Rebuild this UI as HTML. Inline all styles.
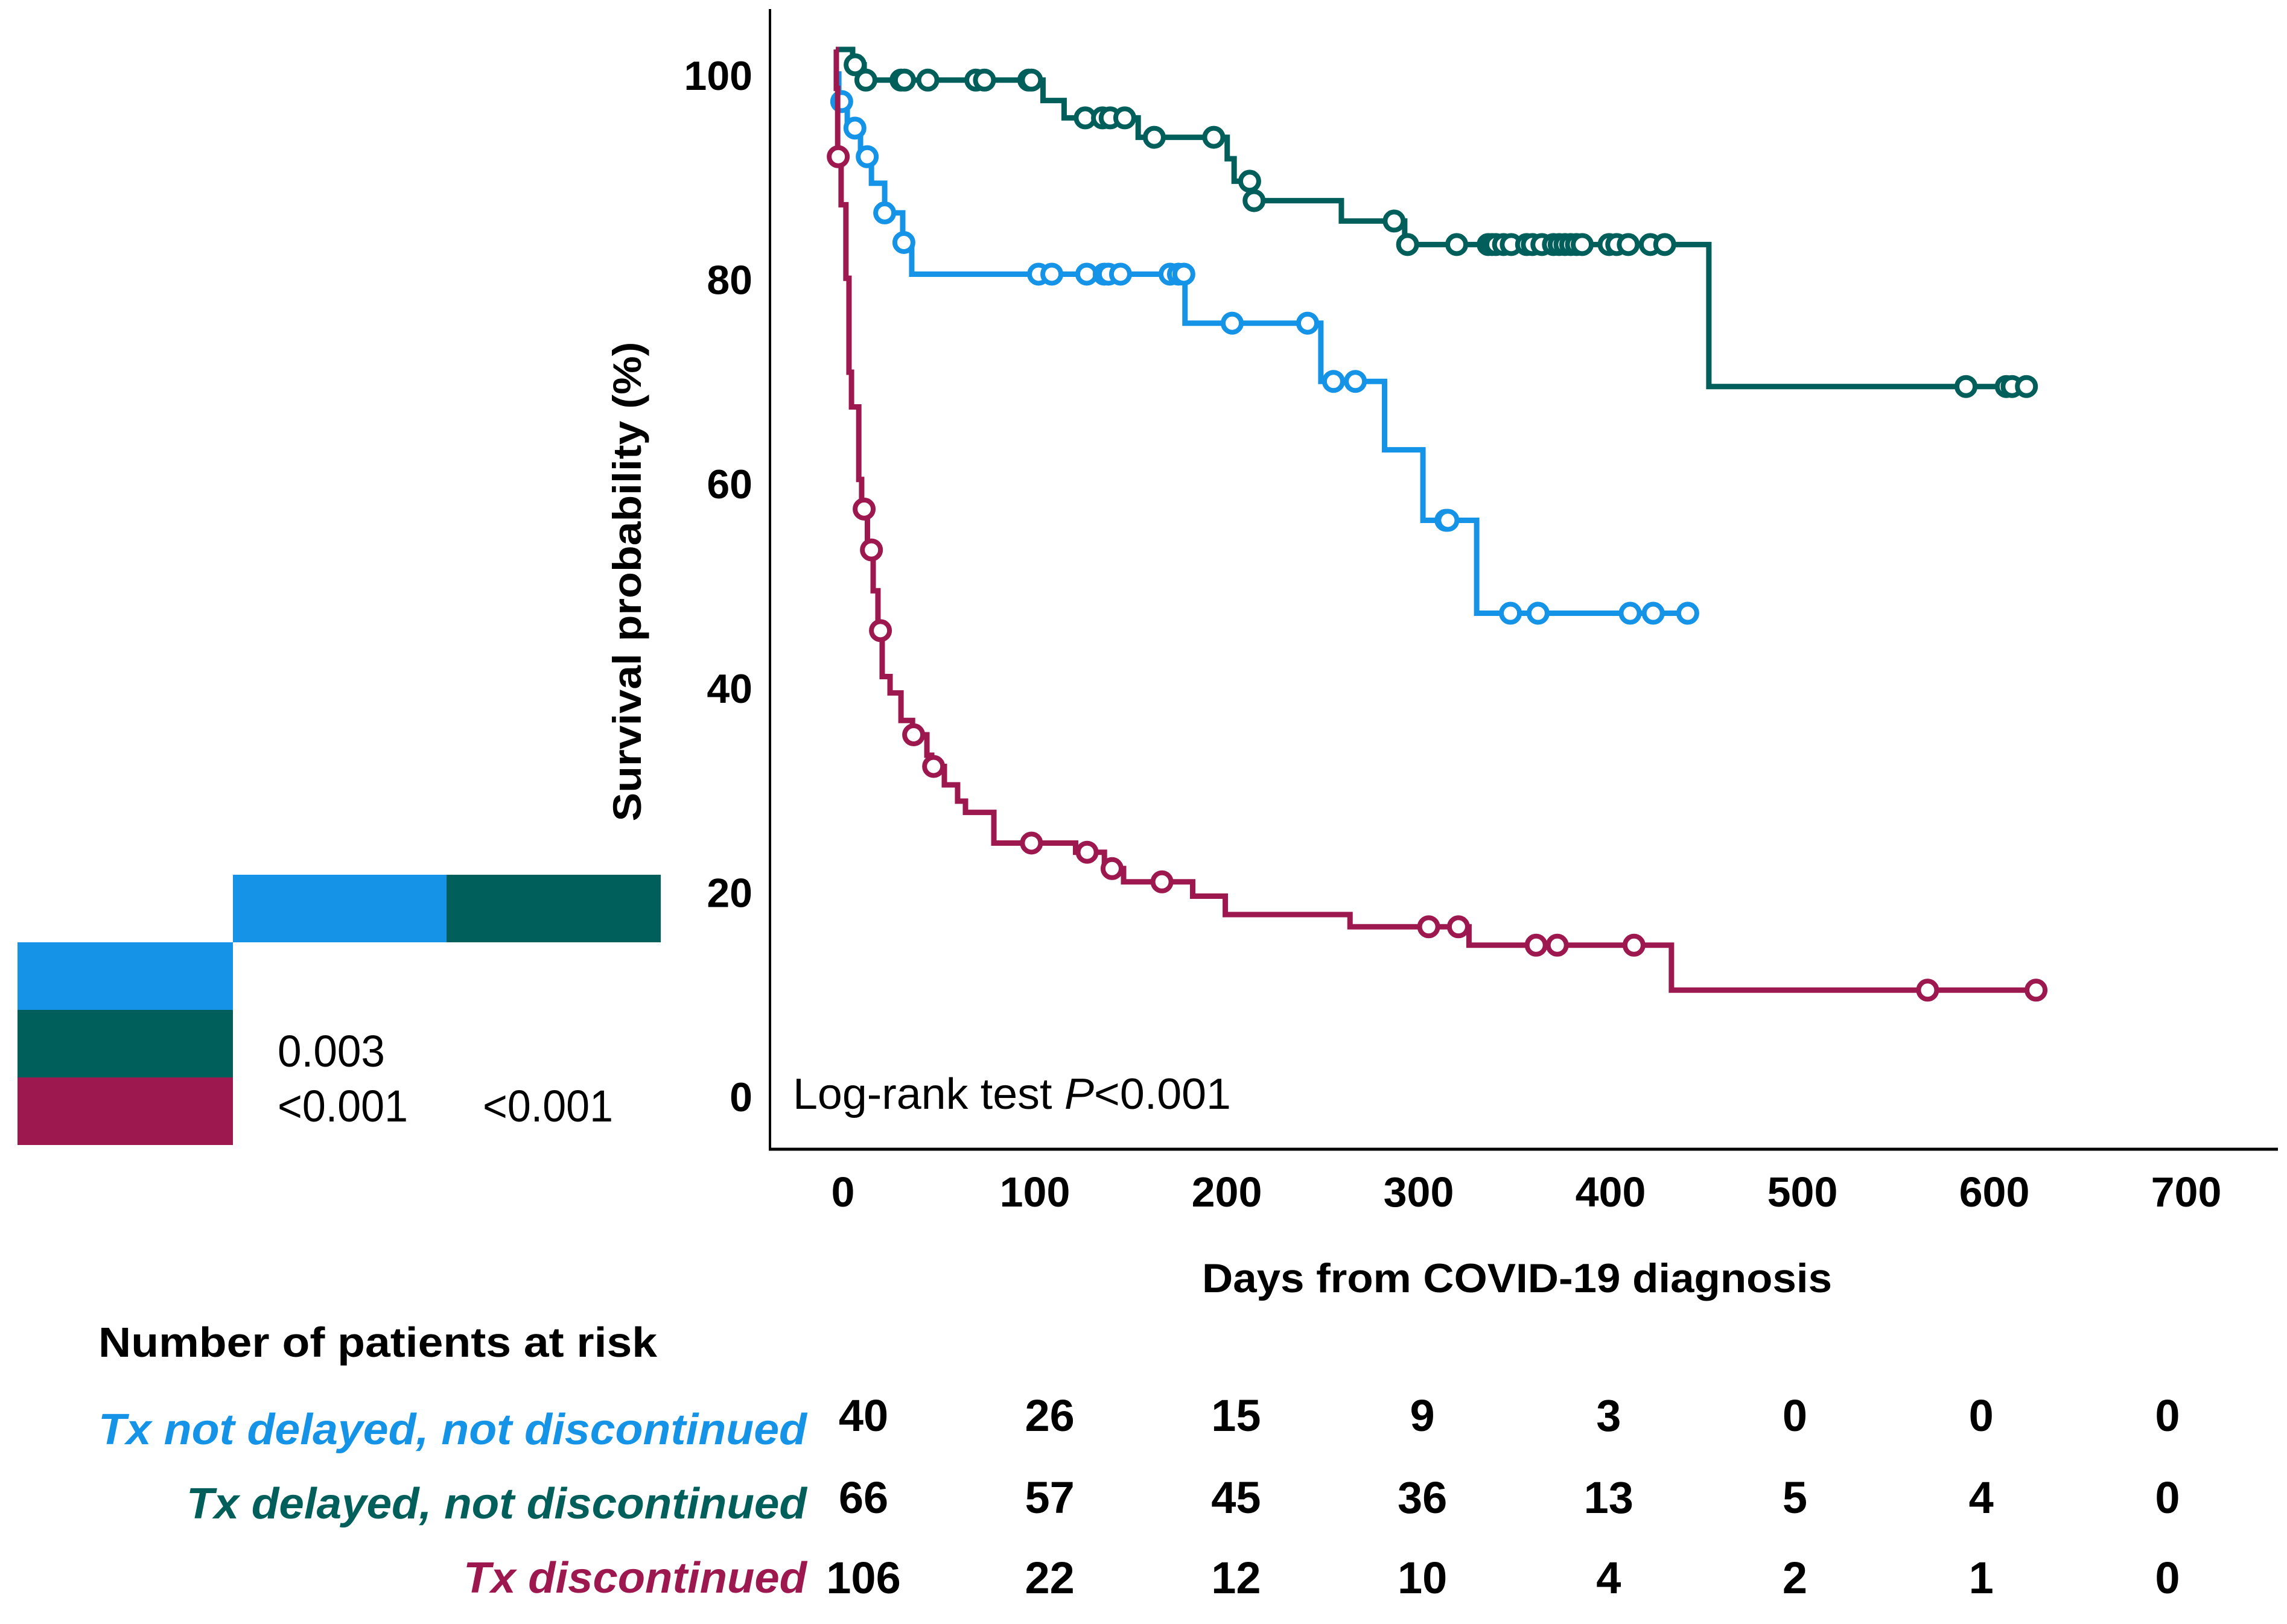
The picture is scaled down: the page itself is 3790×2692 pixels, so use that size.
<!DOCTYPE html>
<html><head><meta charset="utf-8"><style>
html,body{margin:0;padding:0;background:#fff;}
svg{display:block;}
text{font-family:"Liberation Sans",Arial,sans-serif;}
</style></head><body>
<svg id="chart" width="3790" height="2692" viewBox="0 0 3790 2692" xmlns="http://www.w3.org/2000/svg">
<rect width="3790" height="2692" fill="#fff"/>
<g>
<rect x="386" y="1450" width="354" height="112" fill="#1593E6"/>
<rect x="740" y="1450" width="355" height="112" fill="#005E5B"/>
<rect x="29" y="1562" width="357" height="112" fill="#1593E6"/>
<rect x="29" y="1674" width="357" height="112" fill="#005E5B"/>
<rect x="29" y="1786" width="357" height="112" fill="#9E1850"/>
<text x="460" y="1768" font-size="74" textLength="178" lengthAdjust="spacingAndGlyphs">0.003</text>
<text x="460" y="1859" font-size="74" textLength="216" lengthAdjust="spacingAndGlyphs">&lt;0.001</text>
<text x="800" y="1859" font-size="74" textLength="216" lengthAdjust="spacingAndGlyphs">&lt;0.001</text>
</g>
<line x1="1276" y1="15" x2="1276" y2="1907" stroke="#000" stroke-width="4"/>
<line x1="1274" y1="1905" x2="3775" y2="1905" stroke="#000" stroke-width="5"/>
<g id="yticks"></g>
<g id="xticks"></g>
<text transform="translate(1062,964) rotate(-90)" text-anchor="middle" font-size="66" font-weight="bold" textLength="795" lengthAdjust="spacingAndGlyphs">Survival probability (%)</text>
<text x="1992" y="2142" font-size="68" font-weight="bold" textLength="1044" lengthAdjust="spacingAndGlyphs">Days from COVID-19 diagnosis</text>
<text x="1314" y="1838" font-size="72" textLength="726" lengthAdjust="spacingAndGlyphs">Log-rank test <tspan font-style="italic">P</tspan>&lt;0.001</text>
<g id="curves"></g>
<text x="163" y="2249" font-size="70" font-weight="bold" textLength="926" lengthAdjust="spacingAndGlyphs">Number of patients at risk</text>
<text x="1337" y="2394" text-anchor="end" font-size="72" font-weight="bold" font-style="italic" fill="#1593E6" textLength="1174" lengthAdjust="spacingAndGlyphs">Tx not delayed, not discontinued</text>
<text x="1337" y="2517" text-anchor="end" font-size="72" font-weight="bold" font-style="italic" fill="#005E5B" textLength="1028" lengthAdjust="spacingAndGlyphs">Tx delayed, not discontinued</text>
<text x="1337" y="2640" text-anchor="end" font-size="72" font-weight="bold" font-style="italic" fill="#9E1850" textLength="569" lengthAdjust="spacingAndGlyphs">Tx discontinued</text>
<g id="risk"></g>
</svg>
<script>
const yTicks = [0, 20, 40, 60, 80, 100];
const xTicks = [0, 100, 200, 300, 400, 500, 600, 700];
const riskTimes = [0, 100, 200, 300, 400, 500, 600, 700];
const riskNotDelayed = [40, 26, 15, 9, 3, 0, 0, 0];
const riskDelayed = [66, 57, 45, 36, 13, 5, 4, 0];
const riskDiscontinued = [106, 22, 12, 10, 4, 2, 1, 0];

const greenSteps = [[0,100],[8.8,98.5],[14.8,97.0],[108,95.0],[119,93.3],[157.6,91.4],[204,89.3],[207.6,87.1],[218,85.2],[263.5,83.2],[296.5,80.9],[455,67.0]];
const greenEnd = 625.7;
const greenCensor = [[10.1,98.5],[15.7,97.0],[34,97.0],[35.8,97.0],[48,97.0],[73,97.0],[77.5,97.0],[100.6,97.0],[102,97.0],[130,93.3],[139,93.3],[143,93.3],[150.6,93.3],[166,91.4],[197,91.4],[215.7,87.1],[218,85.2],[291,83.2],[298,80.9],[323.6,80.9],[340,80.9],[342,80.9],[344,80.9],[348,80.9],[352,80.9],[360,80.9],[363,80.9],[368,80.9],[374,80.9],[377,80.9],[380,80.9],[383,80.9],[386,80.9],[389,80.9],[403,80.9],[407,80.9],[413,80.9],[424.5,80.9],[432,80.9],[589,67.0],[610,67.0],[613,67.0],[620.5,67.0]];

const blueSteps = [[0,97.6],[1.6,94.9],[6,92.3],[12.9,89.5],[18.6,86.9],[25.5,84.0],[34.9,81.1],[39.6,78.0],[182,73.2],[252.8,67.5],[286,60.8],[306,53.9],[334,44.8]];
const blueEnd = 444;
const blueCensor = [[3.1,94.9],[10,92.3],[16.4,89.5],[25.5,84.0],[35.5,81.1],[105.7,78.0],[112.6,78.0],[130.8,78.0],[139.9,78.0],[142.1,78.0],[148.4,78.0],[174.2,78.0],[178.6,78.0],[181.4,78.0],[206.6,73.2],[245.9,73.2],[259.4,67.5],[270.8,67.5],[318,53.9],[319,53.9],[351.6,44.8],[366,44.8],[414,44.8],[426,44.8],[444,44.8]];

const redSteps = [[0,100],[0.3,96.2],[1,89.5],[2.8,84.8],[5.3,77.6],[6.9,68.4],[8.2,65.0],[12,57.9],[13.5,55.0],[16.5,51.0],[19.5,47.0],[22,43.1],[24.2,38.6],[28.3,37.0],[34,34.3],[40,32.9],[47.5,30.9],[50,29.8],[56.6,28.0],[63.5,26.4],[67.6,25.3],[82.4,22.3],[125,21.4],[140,19.8],[150,18.5],[186,17.1],[203,15.3],[268,14.1],[330,12.3],[435.5,7.9]];
const redEnd = 625.5;
const redCensor = [[1.3,89.5],[14.8,55.0],[18.6,51.0],[23.3,43.1],[40.6,32.9],[51,29.8],[102,22.3],[131,21.4],[144,19.8],[170,18.5],[309,14.1],[324.5,14.1],[365,12.3],[376,12.3],[416,12.3],[569,7.9],[625.5,7.9]];

const NS = 'http://www.w3.org/2000/svg';
function xs(d){ return 1385 + d * 3.18; }
function ys(v){ return 82 + (100 - v) * 16.93; }
function xr(d){ return 1431 + d * 3.087; }
function mk(tag, attrs, parent){
  const e = document.createElementNS(NS, tag);
  for (const k in attrs) e.setAttribute(k, attrs[k]);
  parent.appendChild(e);
  return e;
}

const yg = document.getElementById('yticks');
yTicks.forEach(v => {
  const t = mk('text', {x: 1247, y: ys(v) + 43 + 24, 'text-anchor': 'end', 'font-size': 68, 'font-weight': 'bold'}, yg);
  
  
  t.textContent = v;
});
const xg = document.getElementById('xticks');
xTicks.forEach(v => {
  const t = mk('text', {x: xs(v) + 12, y: 2000, 'text-anchor': 'middle', 'font-size': 70, 'font-weight': 'bold'}, xg);
  
  
  t.textContent = v;
});

const cg = document.getElementById('curves');
function drawCurve(steps, end, censor, color, name){
  const g = mk('g', {}, cg);
  
  
  let d = 'M' + xs(steps[0][0]) + ' ' + ys(steps[0][1]);
  for (let i = 1; i < steps.length; i++) {
    d += ' H' + xs(steps[i][0]) + ' V' + ys(steps[i][1]);
  }
  d += ' H' + xs(end);
  const p = mk('path', {d: d, fill: 'none', stroke: color, 'stroke-width': 9, 'stroke-linejoin': 'miter'}, g);
  
  
  censor.forEach(c => {
    const m = mk('circle', {cx: xs(c[0]), cy: ys(c[1]), r: 15, fill: '#fff', stroke: color, 'stroke-width': 8}, g);
    
    
  });
}
drawCurve(greenSteps, greenEnd, greenCensor, '#005E5B', 'curve-delayed');
drawCurve(blueSteps, blueEnd, blueCensor, '#1593E6', 'curve-not-delayed');
drawCurve(redSteps, redEnd, redCensor, '#9E1850', 'curve-discontinued');

const rg = document.getElementById('risk');
const rows = [[riskNotDelayed, 2372, 'risk-not-delayed'], [riskDelayed, 2508, 'risk-delayed'], [riskDiscontinued, 2641, 'risk-discontinued']];
rows.forEach(r => {
  r[0].forEach((n, i) => {
    const t = mk('text', {x: xr(riskTimes[i]), y: r[1], 'text-anchor': 'middle', 'font-size': 74, 'font-weight': 'bold'}, rg);
    
    
    t.textContent = n;
  });
});
</script>
</body></html>
